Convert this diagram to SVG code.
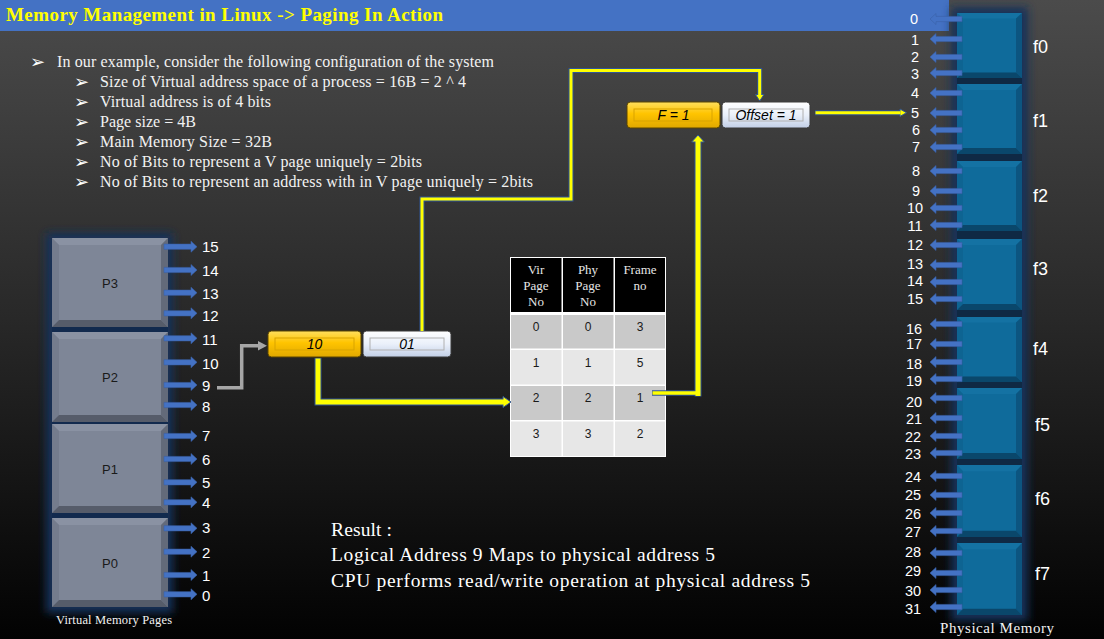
<svg xmlns="http://www.w3.org/2000/svg" xmlns:xlink="http://www.w3.org/1999/xlink" width="1104" height="639" viewBox="0 0 1104 639">
<defs>
<linearGradient id="bg" x1="0" y1="0" x2="0" y2="1">
<stop offset="0" stop-color="#4b4b4b"/><stop offset="0.5" stop-color="#282828"/><stop offset="1" stop-color="#020202"/>
</linearGradient>
<linearGradient id="gy" x1="0" y1="0" x2="0" y2="1">
<stop offset="0" stop-color="#ffdf5e"/><stop offset="0.45" stop-color="#ffc400"/><stop offset="1" stop-color="#e0a800"/>
</linearGradient>
<linearGradient id="gw" x1="0" y1="0" x2="0" y2="1">
<stop offset="0" stop-color="#ffffff"/><stop offset="0.5" stop-color="#eaf0fa"/><stop offset="1" stop-color="#c2cfe6"/>
</linearGradient>
<filter id="glow" x="-40%" y="-10%" width="180%" height="120%"><feGaussianBlur stdDeviation="4"/></filter>
<symbol id="vbox" viewBox="0 0 116 89" preserveAspectRatio="none">
<rect width="116" height="89" fill="#7e8697"/>
<polygon points="0,0 116,0 109,7 7,7" fill="#8a92a3"/>
<polygon points="0,0 7,7 7,82 0,89" fill="#747c8d"/>
<polygon points="116,0 116,89 109,82 109,7" fill="#636a7a"/>
<polygon points="0,89 7,82 109,82 116,89" fill="#565c6a"/>
</symbol>
<symbol id="fbox" viewBox="0 0 65 70" preserveAspectRatio="none">
<rect width="65" height="70" fill="#0f6b9b"/>
<polygon points="0,0 65,0 59,6 6,6" fill="#1472a3"/>
<polygon points="0,0 6,6 6,64 0,70" fill="#0e6492"/>
<polygon points="65,0 65,70 59,64 59,6" fill="#0c5580"/>
<polygon points="0,70 6,64 59,64 65,70" fill="#0a476b"/>
</symbol>
<path id="ra" d="M0,-2.6 H27 V-5.5 L33,0 L27,5.5 V2.6 H0 Z"/>
<path id="la" d="M0,-2.6 H-26 V-5.5 L-32,0 L-26,5.5 V2.6 H0 Z"/>
</defs>
<style>
.sans{font-family:"Liberation Sans",Arial,sans-serif}
.serif{font-family:"Liberation Serif","Times New Roman",serif}
.wl{fill:#ffffff;font-family:"Liberation Sans",Arial,sans-serif;font-size:15px}
.pl{fill:#ffffff;font-family:"Liberation Sans",Arial,sans-serif;font-size:14.5px;text-anchor:middle}
.fl{fill:#ffffff;font-family:"Liberation Sans",Arial,sans-serif;font-size:18px}
.bul{fill:#f2f2f2;font-family:"Liberation Serif","Times New Roman",serif;font-size:16px}
.arr{fill:#ffffff;font-family:"DejaVu Sans",sans-serif;font-size:18px}
.blue{fill:#4472c4;stroke:#3a62a8;stroke-width:0.6}
.pn{fill:#1a1a1a;font-family:"Liberation Sans",Arial,sans-serif;font-size:13px;text-anchor:middle}
.btx{fill:#000;font-family:"Liberation Sans",Arial,sans-serif;font-size:14px;font-style:italic;text-anchor:middle}
.yo{fill:none;stroke:#2f5597;stroke-linejoin:miter;stroke-linecap:butt}
.yi{fill:none;stroke:#ffff00;stroke-linejoin:miter;stroke-linecap:butt}
.yh{fill:#ffff00;stroke:#2f5597;stroke-width:1}
.th{fill:#e6e6e6;font-family:"Liberation Serif","Times New Roman",serif;font-size:13px;text-anchor:middle}
.td{fill:#1a1a1a;font-family:"Liberation Sans",Arial,sans-serif;font-size:12px;text-anchor:middle}
.res{fill:#ffffff;font-family:"Liberation Serif","Times New Roman",serif;font-size:19.5px}
</style>

<rect width="1104" height="639" fill="url(#bg)"/>
<rect x="0" y="0" width="949" height="31" fill="#4472c4"/>
<text x="6" y="21" class="serif" font-size="19" font-weight="bold" fill="#ffff00" textLength="437">Memory Management in Linux -&gt; Paging In Action</text>

<g id="bullets">
<text x="30" y="68" class="arr">➢</text>
<text x="57" y="67" class="bul" textLength="437">In our example, consider the following configuration of the system</text>
<text x="74" y="88" class="arr">➢</text>
<text x="100" y="87" class="bul" textLength="366">Size of Virtual address space of a process = 16B = 2 ^ 4</text>
<text x="74" y="108" class="arr">➢</text>
<text x="100" y="107" class="bul" textLength="171">Virtual address is of 4 bits</text>
<text x="74" y="128" class="arr">➢</text>
<text x="100" y="127" class="bul" textLength="96">Page size = 4B</text>
<text x="74" y="148" class="arr">➢</text>
<text x="100" y="147" class="bul" textLength="172">Main Memory Size = 32B</text>
<text x="74" y="168" class="arr">➢</text>
<text x="100" y="167" class="bul" textLength="322">No of Bits to represent a V page uniquely = 2bits</text>
<text x="74" y="188" class="arr">➢</text>
<text x="100" y="187" class="bul" textLength="433">No of Bits to represent an address with in V page uniquely = 2bits</text>
</g>

<g id="virtual-memory">
<rect x="46" y="233" width="127" height="380" fill="#16305a" filter="url(#glow)"/>
<rect x="52" y="238" width="116" height="369" fill="#122a4e"/>
<g id="P3"><use href="#vbox" xlink:href="#vbox" x="52" y="238" width="116" height="89"/><text x="110" y="288" class="pn">P3</text></g>
<g id="P2"><use href="#vbox" xlink:href="#vbox" x="52" y="332" width="116" height="90"/><text x="110" y="381.5" class="pn">P2</text></g>
<g id="P1"><use href="#vbox" xlink:href="#vbox" x="52" y="424" width="116" height="89"/><text x="110" y="474" class="pn">P1</text></g>
<g id="P0"><use href="#vbox" xlink:href="#vbox" x="52" y="518" width="116" height="89"/><text x="110" y="568" class="pn">P0</text></g>
<text x="56" y="624" class="serif" font-size="12.5" fill="#f2f2f2" textLength="116">Virtual Memory Pages</text>
</g>

<g id="virtual-addresses">
<use href="#ra" xlink:href="#ra" class="blue" transform="translate(164,246.7)"/><text x="202" y="252" class="wl">15</text>
<use href="#ra" xlink:href="#ra" class="blue" transform="translate(164,270)"/><text x="202" y="276" class="wl">14</text>
<use href="#ra" xlink:href="#ra" class="blue" transform="translate(164,292.7)"/><text x="202" y="298.5" class="wl">13</text>
<use href="#ra" xlink:href="#ra" class="blue" transform="translate(164,313.3)"/><text x="202" y="320.5" class="wl">12</text>
<use href="#ra" xlink:href="#ra" class="blue" transform="translate(164,338.3)"/><text x="202" y="344.5" class="wl">11</text>
<use href="#ra" xlink:href="#ra" class="blue" transform="translate(164,362.3)"/><text x="202" y="368.5" class="wl">10</text>
<use href="#ra" xlink:href="#ra" class="blue" transform="translate(164,385)"/><text x="202" y="391" class="wl">9</text>
<use href="#ra" xlink:href="#ra" class="blue" transform="translate(164,405)"/><text x="202" y="412" class="wl">8</text>
<use href="#ra" xlink:href="#ra" class="blue" transform="translate(164,436)"/><text x="202" y="440.5" class="wl">7</text>
<use href="#ra" xlink:href="#ra" class="blue" transform="translate(164,459)"/><text x="202" y="464.5" class="wl">6</text>
<use href="#ra" xlink:href="#ra" class="blue" transform="translate(164,482.3)"/><text x="202" y="487.5" class="wl">5</text>
<use href="#ra" xlink:href="#ra" class="blue" transform="translate(164,502.3)"/><text x="202" y="507.5" class="wl">4</text>
<use href="#ra" xlink:href="#ra" class="blue" transform="translate(164,528.3)"/><text x="202" y="533" class="wl">3</text>
<use href="#ra" xlink:href="#ra" class="blue" transform="translate(164,551.7)"/><text x="202" y="557.5" class="wl">2</text>
<use href="#ra" xlink:href="#ra" class="blue" transform="translate(164,575)"/><text x="202" y="580.5" class="wl">1</text>
<use href="#ra" xlink:href="#ra" class="blue" transform="translate(164,594.3)"/><text x="202" y="600.5" class="wl">0</text>
</g>

<g id="logical-address">
<g id="box-10">
<rect x="268" y="331" width="93" height="26" rx="3.5" fill="url(#gy)" stroke="#5a4500" stroke-width="1"/>
<rect x="275" y="338" width="79" height="12" fill="none" stroke="#d9a400" stroke-width="1"/>
<text x="314.5" y="349" class="btx">10</text>
</g>
<g id="box-01">
<rect x="363" y="331" width="88" height="26" rx="3.5" fill="url(#gw)" stroke="#3a3a3a" stroke-width="1"/>
<rect x="370" y="338" width="74" height="12" fill="none" stroke="#b0b0b0" stroke-width="1"/>
<text x="407" y="349" class="btx">01</text>
</g>
</g>

<g id="physical-address">
<g id="box-F">
<rect x="627" y="102" width="93" height="26" rx="3.5" fill="url(#gy)" stroke="#5a4500" stroke-width="1"/>
<rect x="634" y="109" width="78" height="12" fill="none" stroke="#d9a400" stroke-width="1"/>
<text x="673.5" y="120" class="btx">F = 1</text>
</g>
<g id="box-offset">
<rect x="722" y="102" width="88" height="26" rx="3.5" fill="url(#gw)" stroke="#3a3a3a" stroke-width="1"/>
<rect x="729" y="109" width="74" height="12" fill="none" stroke="#b0b0b0" stroke-width="1"/>
<text x="766" y="120" class="btx">Offset = 1</text>
</g>
</g>

<g id="page-table">
<rect x="510" y="257" width="156" height="200" fill="#ffffff"/>
<rect x="511" y="258" width="50.5" height="54" fill="#000"/>
<rect x="563" y="258" width="50.5" height="54" fill="#000"/>
<rect x="615" y="258" width="50" height="54" fill="#000"/>
<rect x="511" y="315" width="50.5" height="33.5" fill="#c9c9c9"/>
<rect x="563" y="315" width="50.5" height="33.5" fill="#c9c9c9"/>
<rect x="615" y="315" width="50" height="33.5" fill="#c9c9c9"/>
<rect x="511" y="350" width="50.5" height="34.5" fill="#e7e7e7"/>
<rect x="563" y="350" width="50.5" height="34.5" fill="#e7e7e7"/>
<rect x="615" y="350" width="50" height="34.5" fill="#e7e7e7"/>
<rect x="511" y="386" width="50.5" height="34" fill="#c9c9c9"/>
<rect x="563" y="386" width="50.5" height="34" fill="#c9c9c9"/>
<rect x="615" y="386" width="50" height="34" fill="#c9c9c9"/>
<rect x="511" y="421.5" width="50.5" height="34.5" fill="#e7e7e7"/>
<rect x="563" y="421.5" width="50.5" height="34.5" fill="#e7e7e7"/>
<rect x="615" y="421.5" width="50" height="34.5" fill="#e7e7e7"/>
<text x="536" y="274" class="th">Vir</text><text x="536" y="290" class="th">Page</text><text x="536" y="306" class="th">No</text>
<text x="588" y="274" class="th">Phy</text><text x="588" y="290" class="th">Page</text><text x="588" y="306" class="th">No</text>
<text x="640" y="274" class="th">Frame</text><text x="640" y="290" class="th">no</text>
<text x="536" y="330.5" class="td">0</text><text x="588" y="330.5" class="td">0</text><text x="640" y="330.5" class="td">3</text>
<text x="536" y="366.5" class="td">1</text><text x="588" y="366.5" class="td">1</text><text x="640" y="366.5" class="td">5</text>
<text x="536" y="402" class="td">2</text><text x="588" y="402" class="td">2</text><text x="640" y="402" class="td">1</text>
<text x="536" y="437.5" class="td">3</text><text x="588" y="437.5" class="td">3</text><text x="640" y="437.5" class="td">2</text>
</g>

<g id="physical-memory">
<rect x="951" y="7" width="77" height="614" fill="#16305a" filter="url(#glow)"/>
<rect x="957" y="13" width="65" height="602" fill="#0f2944"/>
<g id="f0"><use href="#fbox" xlink:href="#fbox" x="957" y="13" width="65" height="65"/><text x="1033" y="53" class="fl">f0</text></g>
<g id="f1"><use href="#fbox" xlink:href="#fbox" x="957" y="84" width="65" height="70"/><text x="1033" y="126.5" class="fl">f1</text></g>
<g id="f2"><use href="#fbox" xlink:href="#fbox" x="957" y="161" width="65" height="70"/><text x="1033" y="201.5" class="fl">f2</text></g>
<g id="f3"><use href="#fbox" xlink:href="#fbox" x="957" y="239" width="65" height="71"/><text x="1033" y="274.5" class="fl">f3</text></g>
<g id="f4"><use href="#fbox" xlink:href="#fbox" x="957" y="317" width="65" height="65"/><text x="1033" y="354.5" class="fl">f4</text></g>
<g id="f5"><use href="#fbox" xlink:href="#fbox" x="957" y="388" width="65" height="71"/><text x="1035" y="430.5" class="fl">f5</text></g>
<g id="f6"><use href="#fbox" xlink:href="#fbox" x="957" y="465" width="65" height="72"/><text x="1035" y="504.5" class="fl">f6</text></g>
<g id="f7"><use href="#fbox" xlink:href="#fbox" x="957" y="543" width="65" height="72"/><text x="1035" y="579.5" class="fl">f7</text></g>
<text x="940" y="633" class="serif" font-size="15" fill="#f2f2f2" textLength="114">Physical Memory</text>
</g>

<g id="physical-addresses">
<use href="#la" xlink:href="#la" class="blue" transform="translate(962,19)"/><text x="914" y="24" class="pl">0</text>
<use href="#la" xlink:href="#la" class="blue" transform="translate(962,39)"/><text x="915" y="45" class="pl">1</text>
<use href="#la" xlink:href="#la" class="blue" transform="translate(962,57)"/><text x="915" y="62" class="pl">2</text>
<use href="#la" xlink:href="#la" class="blue" transform="translate(962,73)"/><text x="915" y="79" class="pl">3</text>
<use href="#la" xlink:href="#la" class="blue" transform="translate(962,93)"/><text x="915" y="98" class="pl">4</text>
<use href="#la" xlink:href="#la" class="blue" transform="translate(962,113)"/><text x="915" y="118" class="pl">5</text>
<use href="#la" xlink:href="#la" class="blue" transform="translate(962,130)"/><text x="916" y="135" class="pl">6</text>
<use href="#la" xlink:href="#la" class="blue" transform="translate(962,147)"/><text x="916" y="152" class="pl">7</text>
<use href="#la" xlink:href="#la" class="blue" transform="translate(962,171)"/><text x="916" y="176" class="pl">8</text>
<use href="#la" xlink:href="#la" class="blue" transform="translate(962,191)"/><text x="916" y="196" class="pl">9</text>
<use href="#la" xlink:href="#la" class="blue" transform="translate(962,208)"/><text x="915" y="213" class="pl">10</text>
<use href="#la" xlink:href="#la" class="blue" transform="translate(962,225)"/><text x="915" y="231" class="pl">11</text>
<use href="#la" xlink:href="#la" class="blue" transform="translate(962,245)"/><text x="915" y="250" class="pl">12</text>
<use href="#la" xlink:href="#la" class="blue" transform="translate(962,265)"/><text x="915" y="269" class="pl">13</text>
<use href="#la" xlink:href="#la" class="blue" transform="translate(962,282)"/><text x="915" y="286" class="pl">14</text>
<use href="#la" xlink:href="#la" class="blue" transform="translate(962,299)"/><text x="915" y="304" class="pl">15</text>
<use href="#la" xlink:href="#la" class="blue" transform="translate(962,324)"/><text x="914" y="334" class="pl">16</text>
<use href="#la" xlink:href="#la" class="blue" transform="translate(962,344)"/><text x="914" y="349" class="pl">17</text>
<use href="#la" xlink:href="#la" class="blue" transform="translate(962,362)"/><text x="914" y="369" class="pl">18</text>
<use href="#la" xlink:href="#la" class="blue" transform="translate(962,379)"/><text x="914" y="386" class="pl">19</text>
<use href="#la" xlink:href="#la" class="blue" transform="translate(962,398)"/><text x="914" y="407" class="pl">20</text>
<use href="#la" xlink:href="#la" class="blue" transform="translate(962,418)"/><text x="914" y="424" class="pl">21</text>
<use href="#la" xlink:href="#la" class="blue" transform="translate(962,436)"/><text x="913" y="442" class="pl">22</text>
<use href="#la" xlink:href="#la" class="blue" transform="translate(962,453)"/><text x="913" y="459" class="pl">23</text>
<use href="#la" xlink:href="#la" class="blue" transform="translate(962,476)"/><text x="913" y="482" class="pl">24</text>
<use href="#la" xlink:href="#la" class="blue" transform="translate(962,495)"/><text x="913" y="500" class="pl">25</text>
<use href="#la" xlink:href="#la" class="blue" transform="translate(962,513)"/><text x="913" y="519" class="pl">26</text>
<use href="#la" xlink:href="#la" class="blue" transform="translate(962,531)"/><text x="913" y="537" class="pl">27</text>
<use href="#la" xlink:href="#la" class="blue" transform="translate(962,553)"/><text x="913" y="557" class="pl">28</text>
<use href="#la" xlink:href="#la" class="blue" transform="translate(962,573)"/><text x="913" y="576" class="pl">29</text>
<use href="#la" xlink:href="#la" class="blue" transform="translate(962,590)"/><text x="913" y="596" class="pl">30</text>
<use href="#la" xlink:href="#la" class="blue" transform="translate(962,607)"/><text x="913" y="614" class="pl">31</text>
</g>

<g id="connectors">
<path d="M217,387.7 H241.7 V345.7 H259" fill="none" stroke="#a6a6a6" stroke-width="3.5"/>
<polygon points="258,341 267,345.7 258,350.4" fill="#a6a6a6"/>

<path class="yo" stroke-width="7" d="M318,358 V402 H503"/>
<polygon class="yh" points="503,396.5 511,402 503,407.5"/>
<path class="yi" stroke-width="5" d="M318,358.5 V402 H504"/>

<path class="yo" stroke-width="5" d="M422,331 V199 H571 V70.5 H759.7 V95"/>
<polygon class="yh" points="755.5,94.5 764,94.5 759.7,101"/>
<path class="yi" stroke-width="3" d="M422,331 V199 H571 V70.5 H759.7 V95.5"/>

<path class="yo" stroke-width="5.5" d="M652,393 H698"/>
<path class="yo" stroke-width="7" d="M698,396.5 V142"/>
<polygon class="yh" points="691.7,142 704.3,142 698,135"/>
<path class="yi" stroke-width="3.5" d="M652.5,393 H698"/>
<path class="yi" stroke-width="5" d="M698,396 V141"/>

<path class="yo" stroke-width="5" d="M815,112.7 H900"/>
<polygon class="yh" points="900,109 906.5,112.7 900,116.4"/>
<path class="yi" stroke-width="3" d="M815.5,112.7 H900.5"/>
</g>

<g id="result">
<text x="331" y="535.5" class="res" textLength="61">Result :</text>
<text x="331" y="561" class="res" textLength="384">Logical Address 9 Maps to physical address 5</text>
<text x="331" y="587" class="res" textLength="479">CPU performs read/write operation at physical address 5</text>
</g>
</svg>
